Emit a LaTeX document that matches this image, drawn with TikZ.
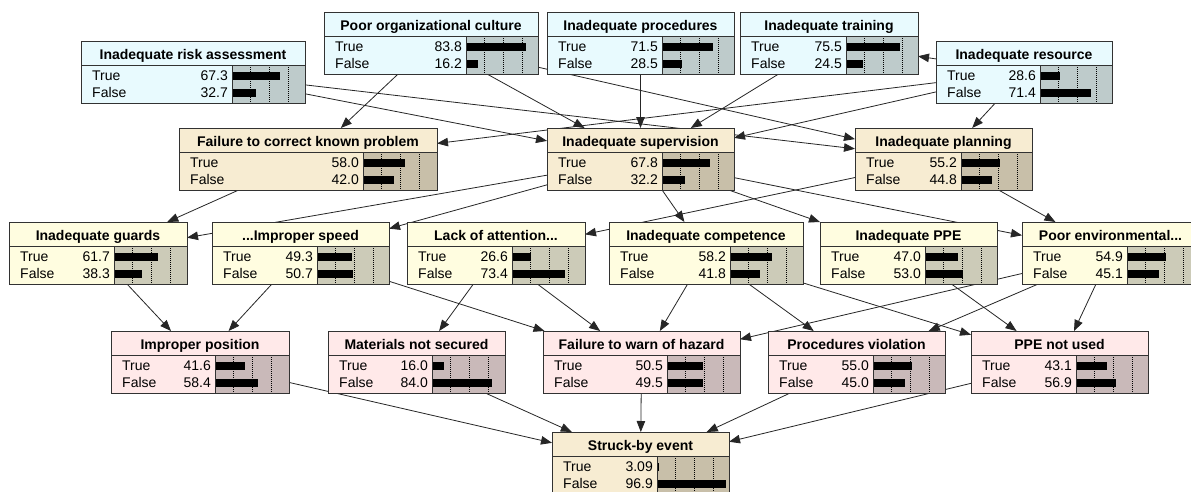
\documentclass[tikz,border=0pt]{standalone}
\usepackage{fontspec}
\setmainfont{Liberation Sans}
\usetikzlibrary{arrows.meta}
\pgfdeclarelayer{bg}
\pgfdeclarelayer{edges}
\pgfsetlayers{bg,edges,main}
\definecolor{cT}{RGB}{232,250,254}
\definecolor{cB}{RGB}{190,203,203}
\definecolor{bT}{RGB}{247,236,210}
\definecolor{bB}{RGB}{200,191,169}
\definecolor{yT}{RGB}{255,253,224}
\definecolor{yB}{RGB}{204,203,184}
\definecolor{pT}{RGB}{255,233,233}
\definecolor{pB}{RGB}{201,185,185}
\definecolor{boxline}{RGB}{50,50,50}
\tikzset{
  netbox/.style={rectangle, draw=none, inner sep=0pt, outer sep=0pt, minimum height=62pt, anchor=north west},
  boxedge/.style={draw=boxline, line width=0.9pt},
  ttl/.style={font=\bfseries\fontsize{14}{16}\selectfont, inner sep=0pt, anchor=base},
  txt/.style={font=\fontsize{14}{16}\selectfont, inner sep=0pt},
  edge/.style={draw=black!85, line width=0.8pt, -{Triangle[length=11pt,width=8.5pt]}},
  gridline/.style={line width=0.8pt, dash pattern=on 1pt off 1pt},
}
% #1 name, #2 left, #3 top, #4 width, #5 bar offset, #6 title, #7 true, #8 false, #9 scheme
\newcommand{\bnode}[9]{%
  \node[netbox, fill=#9T, minimum width=#4pt] (#1) at (#2,#3) {};
  \fill[#9B] (#2+#5,#3+24) rectangle (#2+#4,#3+62);
  \foreach \g in {18.5,37.3,56} \draw[gridline] (#2+#5+\g,#3+24) -- (#2+#5+\g,#3+62);
  \fill (#2+#5,#3+30.5) rectangle ++({(#4-#5-1)*#7/100},8);
  \fill (#2+#5,#3+47.5) rectangle ++({(#4-#5-1)*#8/100},8);
  \draw[boxedge] (#2+#5,#3+24) -- (#2+#5,#3+62);
  \draw[boxedge] (#2,#3+24) -- (#2+#4,#3+24);
  \draw[boxedge] (#2,#3) rectangle (#2+#4,#3+62);
  \node[ttl] (#1-t) at (#2+#4/2,#3+18) {#6};
  \node[txt, anchor=base west] (#1-a) at (#2+11,#3+39.5) {True};
  \node[txt, anchor=base west] (#1-b) at (#2+11,#3+56.5) {False};
  \node[txt, anchor=base east] (#1-c) at (#2+#5-4,#3+39.5) {#7};
  \node[txt, anchor=base east] (#1-d) at (#2+#5-4,#3+56.5) {#8};
}
\begin{document}
\begin{tikzpicture}[x=1pt,y=-1pt]
\useasboundingbox (0,0) rectangle (1191,491);
\begin{pgfonlayer}{bg}
\fill[white] (0,0) rectangle (1191,491);
\end{pgfonlayer}
% row 0
\bnode{orgc}{324}{12}{214}{142}{Poor organizational culture}{83.8}{16.2}{c}
\bnode{proc}{547}{12}{187}{115}{Inadequate procedures}{71.5}{28.5}{c}
\bnode{train}{740}{12}{178}{106}{Inadequate training}{75.5}{24.5}{c}
\bnode{risk}{81}{41}{224}{151}{Inadequate risk assessment}{67.3}{32.7}{c}
\bnode{res}{936}{41}{176}{104}{Inadequate resource}{28.6}{71.4}{c}
% row 1
\bnode{fcorr}{179}{128}{258}{184}{Failure to correct known problem}{58.0}{42.0}{b}
\bnode{sup}{547}{128}{187}{115}{Inadequate supervision}{67.8}{32.2}{b}
\bnode{plan}{855}{128}{177}{106}{Inadequate planning}{55.2}{44.8}{b}
% row 2
\bnode{guards}{9}{222}{178}{105}{Inadequate guards}{61.7}{38.3}{y}
\bnode{speed}{212}{222}{177}{105}{...Improper speed}{49.3}{50.7}{y}
\bnode{lack}{407}{222}{178}{105}{Lack of attention...}{26.6}{73.4}{y}
\bnode{comp}{609}{222}{194}{121}{Inadequate competence}{58.2}{41.8}{y}
\bnode{ppe}{820}{222}{177}{105}{Inadequate PPE}{47.0}{53.0}{y}
\bnode{env}{1022}{222}{177}{105}{Poor environmental...}{54.9}{45.1}{y}
% row 3
\bnode{pos}{111}{331}{178}{104}{Improper position}{41.6}{58.4}{p}
\bnode{mat}{328}{331}{177}{104}{Materials not secured}{16.0}{84.0}{p}
\bnode{warn}{543}{331}{197}{124}{Failure to warn of hazard}{50.5}{49.5}{p}
\bnode{procviol}{768}{331}{177}{105}{Procedures violation}{55.0}{45.0}{p}
\bnode{ppenu}{971}{331}{177}{105}{PPE not used}{43.1}{56.9}{p}
% row 4
\bnode{struck}{552}{432}{177}{105}{Struck-by event}{3.09}{96.9}{b}
\begin{pgfonlayer}{edges}
\draw[edge] (orgc) -- (fcorr);
\draw[edge] (orgc) -- (sup);
\draw[edge] (orgc) -- (plan);
\draw[edge] (risk) -- (sup);
\draw[edge] (risk) -- (plan);
\draw[edge] (proc) -- (sup);
\draw[edge] (train) -- (sup);
\draw[edge] (res) -- (train);
\draw[edge] (res) -- (fcorr);
\draw[edge] (res) -- (sup);
\draw[edge] (res) -- (plan);
\draw[edge] (fcorr) -- (guards);
\draw[edge] (sup) -- (guards);
\draw[edge] (sup) -- (speed);
\draw[edge] (sup) -- (comp);
\draw[edge] (sup) -- (ppe);
\draw[edge] (sup) -- (env);
\draw[edge] (plan) -- (lack);
\draw[edge] (plan) -- (env);
\draw[edge] (guards) -- (pos);
\draw[edge] (speed) -- (pos);
\draw[edge] (speed) -- (warn);
\draw[edge] (lack) -- (mat);
\draw[edge] (lack) -- (warn);
\draw[edge] (comp) -- (warn);
\draw[edge] (comp) -- (procviol);
\draw[edge] (comp) -- (ppenu);
\draw[edge] (ppe) -- (ppenu);
\draw[edge] (env) -- (warn);
\draw[edge] (env) -- (procviol);
\draw[edge] (env) -- (ppenu);
\draw[edge] (pos) -- (struck);
\draw[edge] (mat) -- (struck);
\draw[edge] (warn) -- (struck);
\draw[edge] (procviol) -- (struck);
\draw[edge] (ppenu) -- (struck);
\end{pgfonlayer}
\end{tikzpicture}
\end{document}
